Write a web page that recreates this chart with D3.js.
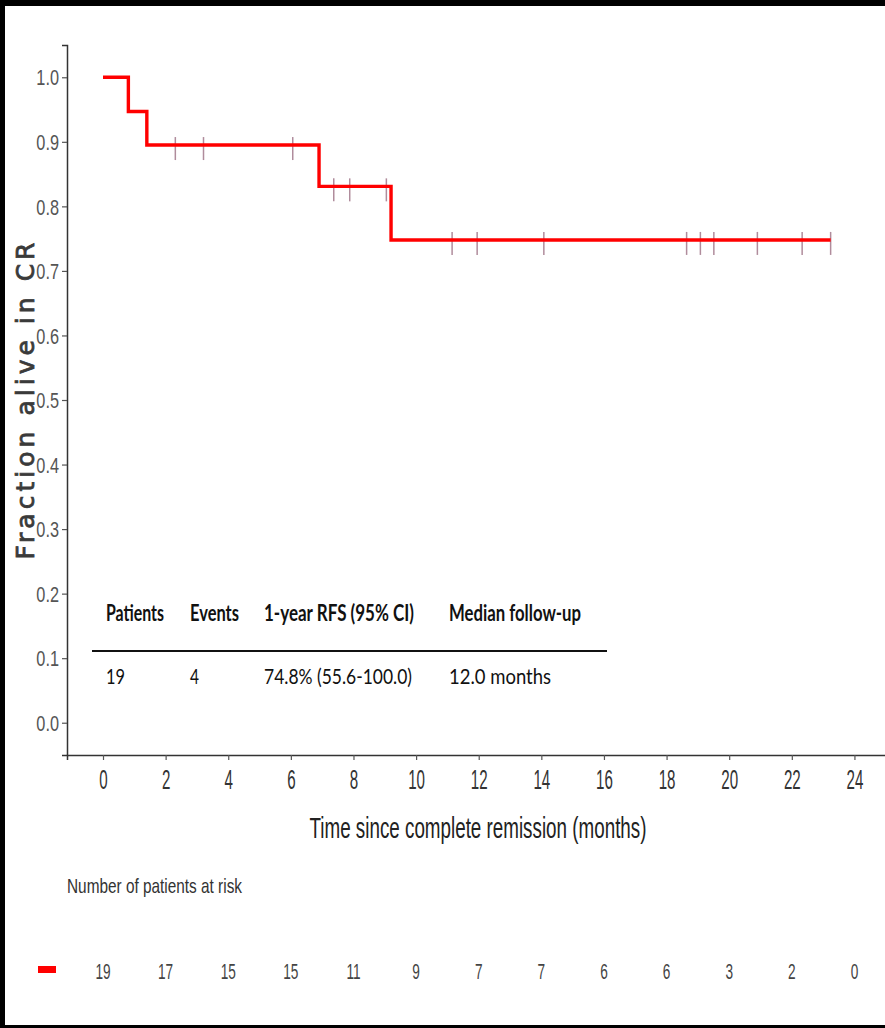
<!DOCTYPE html>
<html>
<head>
<meta charset="utf-8">
<script src="https://cdn.jsdelivr.net/npm/d3@7"></script>
<style>
  html, body { margin: 0; padding: 0; background: #000; }
  svg { display: block; }
</style>
</head>
<body>
<svg id="chart" width="885" height="1028"></svg>
<script>
// Kaplan-Meier relapse-free survival, 19 patients
const stepTimes = [0, 0.81, 1.4, 6.9, 9.2];          // months at which the curve drops
const stepSurv  = [1.0, 0.947, 0.895, 0.831, 0.748]; // fraction alive in CR after each step
const lastFollowUp = 23.24;
const censorTimes = [2.31, 3.21, 6.06, 7.37, 7.88, 9.05, 11.15, 11.95, 14.08,
                     18.64, 19.08, 19.51, 20.9, 22.33, 23.24];
const xTicks = [0, 2, 4, 6, 8, 10, 12, 14, 16, 18, 20, 22, 24];
const yTicks = [0.0, 0.1, 0.2, 0.3, 0.4, 0.5, 0.6, 0.7, 0.8, 0.9, 1.0];
const atRisk = [19, 17, 15, 15, 11, 9, 7, 7, 6, 6, 3, 2, 0];
const tableHeaders = ["Patients", "Events", "1-year RFS (95% CI)", "Median follow-up"];
const tableValues  = ["19", "4", "74.8% (55.6-100.0)", "12.0 months"];

const svg = d3.select("#chart");

// white page inside a thin dark frame
svg.append("rect").attr("x", 5).attr("y", 6).attr("width", 880).attr("height", 1019).attr("fill", "#fff");

const x = d3.scaleLinear().domain([-1.15, 25.2]).range([67, 892]);
const y = d3.scaleLinear().domain([-0.05, 1.05]).range([755, 45]);

// squeeze a text element horizontally to a narrow face
function squeeze(sel, f) {
  sel.each(function () {
    const w = this.getComputedTextLength();
    d3.select(this).attr("textLength", w * f).attr("lengthAdjust", "spacingAndGlyphs");
  });
}
function fitTo(sel, widths) {
  sel.each(function (d, i) {
    d3.select(this).attr("textLength", widths[i]).attr("lengthAdjust", "spacingAndGlyphs");
  });
}

const plot = svg.append("g");

// axes
const yAxis = plot.append("g").attr("transform", `translate(${x(-1.15)},0)`)
  .call(d3.axisLeft(y).tickValues(yTicks).tickFormat(d3.format(".1f")).tickSize(5).tickPadding(3));
yAxis.select(".domain").attr("stroke", "#333").attr("stroke-width", 1.5);
yAxis.selectAll(".tick line").attr("stroke", "#555").attr("stroke-width", 1.2);
yAxis.selectAll(".tick text")
  .attr("font-family", "Liberation Sans, Arial, sans-serif")
  .attr("font-size", 22).attr("fill", "#555").attr("dy", "0.35em")
  .call(squeeze, 0.74);

const xAxis = plot.append("g").attr("transform", `translate(0,${y(-0.05)})`)
  .call(d3.axisBottom(x).tickValues(xTicks).tickFormat(d3.format("d")).tickSize(5).tickPadding(9));
xAxis.select(".domain").attr("stroke", "#333").attr("stroke-width", 1.5);
xAxis.selectAll(".tick line").attr("stroke", "#555").attr("stroke-width", 1.2);
xAxis.selectAll(".tick text")
  .attr("font-family", "Liberation Sans, Arial, sans-serif")
  .attr("font-size", 28).attr("fill", "#333")
  .call(squeeze, 0.54);

// axis titles
plot.append("text")
  .attr("x", 478).attr("y", 838)
  .attr("text-anchor", "middle")
  .attr("font-family", "Liberation Sans, Arial, sans-serif")
  .attr("font-size", 30).attr("fill", "#222")
  .text("Time since complete remission (months)")
  .attr("textLength", 337).attr("lengthAdjust", "spacingAndGlyphs");

plot.append("text")
  .attr("transform", "translate(34,401) rotate(-90)")
  .attr("text-anchor", "middle")
  .attr("font-family", "DejaVu Sans, Verdana, sans-serif")
  .attr("font-size", 25).attr("fill", "#3a3a3a")
  .attr("stroke", "#3a3a3a").attr("stroke-width", 0.8)
  .text("Fraction alive in CR")
  .attr("textLength", 317).attr("lengthAdjust", "spacing");

// survival lookup for the step function
function survAt(t) {
  const i = d3.bisectRight(stepTimes, t) - 1;
  return stepSurv[Math.max(0, i)];
}

// censoring marks
plot.append("g").selectAll("line").data(censorTimes).join("line")
  .attr("x1", d => x(d)).attr("x2", d => x(d))
  .attr("y1", d => y(survAt(d)) - 8).attr("y2", d => y(survAt(d)) + 15)
  .attr("stroke", "#b08c9c").attr("stroke-width", 1.5);

// KM step curve
const pts = stepTimes.map((t, i) => [t, stepSurv[i]]);
pts.push([lastFollowUp, stepSurv[stepSurv.length - 1]]);
const line = d3.line().x(d => x(d[0])).y(d => y(d[1])).curve(d3.curveStepAfter);
plot.append("path").datum(pts)
  .attr("d", line).attr("fill", "none")
  .attr("stroke", "#ff0000").attr("stroke-width", 3.4);

// summary table
const colX = [106, 190, 264, 449];
const table = plot.append("g").attr("font-family", "Lato, 'Open Sans', sans-serif").attr("fill", "#111");
table.selectAll("text.h").data(tableHeaders).join("text").attr("class", "h")
  .attr("x", (d, i) => colX[i]).attr("y", 621)
  .attr("font-size", 22).attr("font-weight", "bold")
  .text(d => d)
  .call(fitTo, [58, 49, 150, 132]);
table.append("line")
  .attr("x1", 92).attr("x2", 607).attr("y1", 651).attr("y2", 651)
  .attr("stroke", "#111").attr("stroke-width", 2);
table.selectAll("text.v").data(tableValues).join("text").attr("class", "v")
  .attr("x", (d, i) => colX[i]).attr("y", 684)
  .attr("font-size", 22)
  .text(d => d)
  .call(fitTo, [19, 9, 148, 102]);

// number at risk
svg.append("text")
  .attr("x", 67).attr("y", 893)
  .attr("font-family", "Liberation Sans, Arial, sans-serif")
  .attr("font-size", 21).attr("fill", "#333")
  .text("Number of patients at risk")
  .attr("textLength", 175).attr("lengthAdjust", "spacingAndGlyphs");

svg.append("rect").attr("x", 38).attr("y", 966).attr("width", 18).attr("height", 7).attr("fill", "#ff0000");

svg.append("g").selectAll("text").data(atRisk).join("text")
  .attr("x", (d, i) => x(xTicks[i])).attr("y", 979)
  .attr("text-anchor", "middle")
  .attr("font-family", "Liberation Sans, Arial, sans-serif")
  .attr("font-size", 22).attr("fill", "#444")
  .text(d => d)
  .call(squeeze, 0.62);
</script>
</body>
</html>
